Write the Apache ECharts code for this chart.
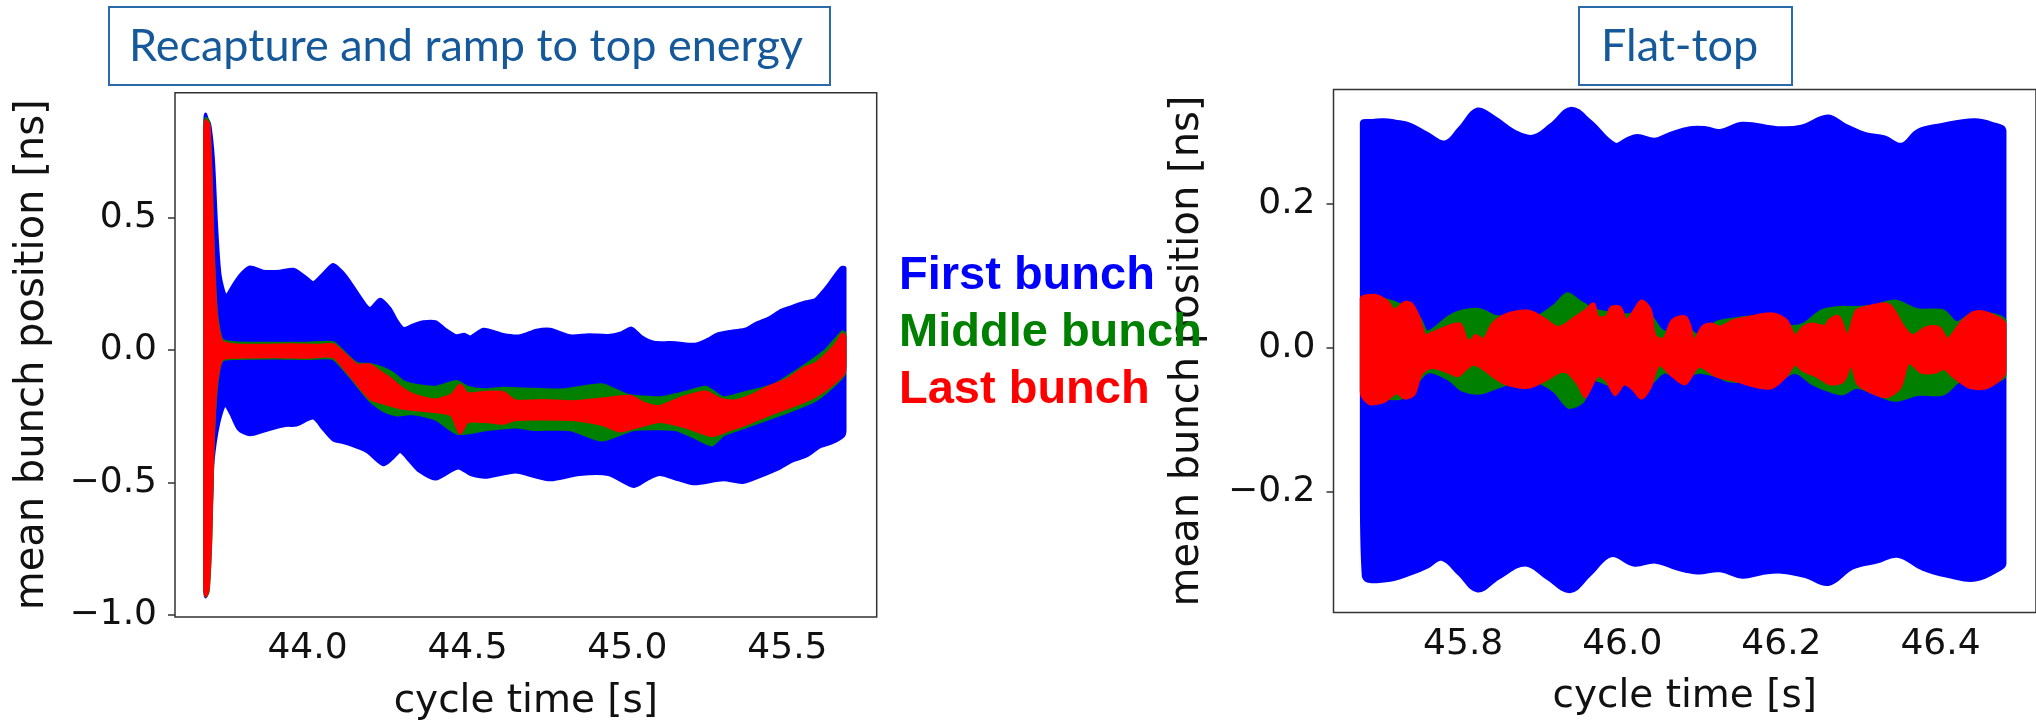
<!DOCTYPE html>
<html>
<head>
<meta charset="utf-8">
<title>Mean bunch position</title>
<script src="https://cdn.jsdelivr.net/npm/echarts@6.0.0/dist/echarts.min.js"></script>
<style>
  html, body { margin: 0; padding: 0; background: #ffffff; }
  #chart { width: 2036px; height: 726px; }
</style>
</head>
<body>
<div id="chart"></div>
<script>
// Envelopes of the bunch-position oscillation, [cycle time s, position ns].
// Ramp (recapture and acceleration)
const rampFirstUpper = [[43.679,0.86],[43.682,0.892],[43.686,0.875],[43.695,0.85],[43.706,0.722],[43.716,0.471],[43.727,0.283],[43.745,0.205],[43.765,0.24],[43.789,0.283],[43.82,0.314],[43.862,0.298],[43.914,0.298],[43.956,0.305],[43.99,0.28],[44.018,0.255],[44.05,0.29],[44.08,0.323],[44.105,0.3],[44.133,0.258],[44.165,0.2],[44.195,0.157],[44.227,0.192],[44.258,0.157],[44.28,0.11],[44.30,0.082],[44.33,0.095],[44.362,0.107],[44.40,0.107],[44.43,0.08],[44.466,0.054],[44.49,0.06],[44.51,0.05],[44.55,0.079],[44.612,0.059],[44.664,0.054],[44.716,0.075],[44.758,0.079],[44.82,0.054],[44.88,0.058],[44.94,0.055],[44.98,0.065],[45.013,0.083],[45.045,0.05],[45.083,0.03],[45.15,0.028],[45.21,0.022],[45.25,0.04],[45.28,0.06],[45.33,0.072],[45.371,0.08],[45.40,0.1],[45.443,0.122],[45.48,0.15],[45.515,0.165],[45.55,0.18],[45.587,0.191],[45.61,0.22],[45.631,0.252],[45.667,0.31],[45.68,0.31]];
const rampFirstLower = [[43.679,-0.90],[43.682,-0.932],[43.686,-0.91],[43.690,-0.85],[43.694,-0.768],[43.701,-0.55],[43.705,-0.42],[43.722,-0.28],[43.742,-0.207],[43.76,-0.24],[43.785,-0.30],[43.82,-0.32],[43.88,-0.30],[43.93,-0.285],[43.966,-0.283],[44.018,-0.257],[44.05,-0.30],[44.08,-0.339],[44.12,-0.352],[44.185,-0.383],[44.237,-0.433],[44.265,-0.41],[44.29,-0.383],[44.32,-0.42],[44.35,-0.458],[44.40,-0.487],[44.47,-0.445],[44.51,-0.47],[44.56,-0.48],[44.65,-0.46],[44.70,-0.475],[44.76,-0.49],[44.85,-0.47],[44.94,-0.47],[45.02,-0.515],[45.06,-0.49],[45.10,-0.47],[45.16,-0.49],[45.21,-0.505],[45.30,-0.49],[45.36,-0.5],[45.43,-0.47],[45.47,-0.45],[45.515,-0.419],[45.56,-0.4],[45.60,-0.367],[45.64,-0.35],[45.676,-0.323],[45.68,-0.3]];
const rampMiddleUpper = [[43.679,0.85],[43.683,0.875],[43.692,0.86],[43.700,0.62],[43.706,0.37],[43.716,0.14],[43.732,0.04],[43.768,0.028],[43.9,0.026],[44.0,0.026],[44.08,0.028],[44.12,-0.015],[44.154,-0.05],[44.2,-0.055],[44.237,-0.069],[44.27,-0.09],[44.30,-0.12],[44.35,-0.135],[44.40,-0.14],[44.466,-0.119],[44.50,-0.14],[44.55,-0.15],[44.612,-0.144],[44.71,-0.148],[44.80,-0.15],[44.92,-0.131],[45.0,-0.17],[45.1,-0.18],[45.18,-0.16],[45.245,-0.14],[45.30,-0.18],[45.37,-0.16],[45.46,-0.13],[45.55,-0.062],[45.62,0.0],[45.672,0.069],[45.68,0.06]];
const rampMiddleLower = [[43.679,-0.91],[43.683,-0.93],[43.690,-0.91],[43.698,-0.72],[43.705,-0.37],[43.716,-0.14],[43.732,-0.04],[43.77,-0.032],[43.9,-0.03],[44.0,-0.032],[44.08,-0.032],[44.133,-0.1],[44.195,-0.19],[44.24,-0.23],[44.28,-0.245],[44.33,-0.24],[44.40,-0.26],[44.47,-0.315],[44.56,-0.3],[44.65,-0.29],[44.71,-0.3],[44.82,-0.3],[44.92,-0.34],[45.02,-0.3],[45.15,-0.3],[45.21,-0.33],[45.264,-0.358],[45.30,-0.32],[45.37,-0.29],[45.44,-0.26],[45.515,-0.227],[45.586,-0.19],[45.63,-0.15],[45.676,-0.095],[45.68,-0.06]];
const rampLastUpper = [[43.679,0.84],[43.683,0.867],[43.692,0.85],[43.700,0.597],[43.706,0.346],[43.716,0.12],[43.732,0.033],[43.768,0.02],[43.85,0.018],[43.95,0.02],[44.03,0.018],[44.08,0.02],[44.12,-0.02],[44.154,-0.056],[44.195,-0.056],[44.23,-0.085],[44.258,-0.107],[44.29,-0.14],[44.32,-0.163],[44.36,-0.18],[44.40,-0.188],[44.45,-0.17],[44.477,-0.132],[44.50,-0.165],[44.55,-0.16],[44.612,-0.16],[44.65,-0.192],[44.74,-0.19],[44.83,-0.195],[44.92,-0.185],[45.01,-0.175],[45.05,-0.2],[45.1,-0.213],[45.17,-0.18],[45.245,-0.158],[45.29,-0.185],[45.335,-0.192],[45.39,-0.17],[45.44,-0.14],[45.50,-0.11],[45.55,-0.07],[45.59,-0.05],[45.62,-0.018],[45.65,0.02],[45.672,0.06],[45.68,0.05]];
const rampLastLower = [[43.679,-0.90],[43.683,-0.928],[43.690,-0.90],[43.698,-0.7],[43.705,-0.35],[43.716,-0.12],[43.732,-0.035],[43.77,-0.027],[43.9,-0.025],[44.0,-0.027],[44.08,-0.025],[44.133,-0.094],[44.195,-0.182],[44.237,-0.2],[44.30,-0.22],[44.40,-0.232],[44.45,-0.245],[44.477,-0.314],[44.50,-0.27],[44.56,-0.27],[44.612,-0.276],[44.65,-0.262],[44.74,-0.26],[44.83,-0.262],[44.92,-0.28],[44.977,-0.306],[45.03,-0.29],[45.1,-0.27],[45.18,-0.29],[45.264,-0.323],[45.32,-0.3],[45.37,-0.28],[45.43,-0.25],[45.48,-0.227],[45.54,-0.2],[45.586,-0.175],[45.63,-0.14],[45.676,-0.088],[45.68,-0.05]];

// Flat-top
const flatFirstUpper = [[45.672,0.312],[45.686,0.316],[45.700,0.317],[45.715,0.315],[45.733,0.311],[45.755,0.298],[45.777,0.286],[45.795,0.305],[45.818,0.332],[45.84,0.32],[45.865,0.301],[45.887,0.294],[45.91,0.31],[45.936,0.333],[45.96,0.315],[45.991,0.283],[46.005,0.29],[46.019,0.295],[46.041,0.290],[46.06,0.298],[46.085,0.306],[46.105,0.306],[46.123,0.302],[46.151,0.312],[46.195,0.306],[46.225,0.308],[46.258,0.322],[46.28,0.31],[46.305,0.298],[46.33,0.293],[46.351,0.283],[46.371,0.302],[46.40,0.31],[46.442,0.317],[46.465,0.312],[46.481,0.301]];
const flatFirstLower = [[45.672,-0.20],[45.6745,-0.318],[45.703,-0.324],[45.738,-0.313],[45.755,-0.305],[45.773,-0.294],[45.795,-0.315],[45.818,-0.338],[45.845,-0.32],[45.878,-0.302],[45.905,-0.32],[45.934,-0.339],[45.96,-0.315],[45.986,-0.289],[46.014,-0.302],[46.042,-0.298],[46.07,-0.308],[46.095,-0.313],[46.123,-0.310],[46.151,-0.319],[46.175,-0.314],[46.200,-0.312],[46.23,-0.318],[46.259,-0.329],[46.29,-0.306],[46.32,-0.298],[46.346,-0.290],[46.378,-0.308],[46.41,-0.318],[46.444,-0.323],[46.476,-0.307],[46.481,-0.30]];
const flatMiddleUpper = [[45.672,0.069],[45.711,0.064],[45.744,0.043],[45.755,0.022],[45.782,0.043],[45.799,0.051],[45.821,0.053],[45.843,0.043],[45.865,0.046],[45.892,0.043],[45.914,0.058],[45.931,0.075],[45.947,0.064],[45.964,0.053],[45.986,0.048],[46.008,0.046],[46.030,0.051],[46.052,0.022],[46.074,0.033],[46.096,0.017],[46.118,0.035],[46.140,0.040],[46.167,0.043],[46.189,0.043],[46.211,0.030],[46.228,0.033],[46.250,0.051],[46.272,0.056],[46.294,0.056],[46.316,0.058],[46.343,0.065],[46.371,0.053],[46.404,0.051],[46.420,0.035],[46.442,0.048],[46.481,0.038]];
const flatMiddleLower = [[45.672,-0.060],[45.700,-0.070],[45.727,-0.068],[45.755,-0.034],[45.782,-0.044],[45.799,-0.059],[45.821,-0.063],[45.843,-0.055],[45.865,-0.047],[45.892,-0.047],[45.914,-0.060],[45.933,-0.083],[45.950,-0.075],[45.964,-0.045],[45.986,-0.052],[46.008,-0.050],[46.030,-0.055],[46.052,-0.034],[46.074,-0.042],[46.096,-0.034],[46.118,-0.039],[46.134,-0.046],[46.156,-0.047],[46.189,-0.050],[46.217,-0.034],[46.239,-0.050],[46.261,-0.060],[46.277,-0.064],[46.294,-0.055],[46.316,-0.063],[46.343,-0.073],[46.371,-0.065],[46.404,-0.064],[46.426,-0.045],[46.453,-0.050],[46.481,-0.039]];
const flatLastUpper = [[45.672,0.069],[45.689,0.073],[45.705,0.064],[45.713,0.053],[45.727,0.063],[45.735,0.061],[45.744,0.043],[45.752,0.017],[45.760,0.020],[45.782,0.030],[45.796,0.033],[45.804,0.012],[45.810,0.010],[45.815,0.017],[45.826,0.012],[45.837,0.033],[45.854,0.046],[45.881,0.051],[45.898,0.043],[45.920,0.028],[45.942,0.043],[45.953,0.051],[45.964,0.061],[45.969,0.043],[45.980,0.043],[45.986,0.056],[45.997,0.056],[46.005,0.038],[46.013,0.048],[46.024,0.065],[46.035,0.053],[46.041,0.017],[46.052,0.012],[46.063,0.038],[46.079,0.043],[46.085,0.030],[46.090,0.010],[46.101,0.029],[46.112,0.033],[46.123,0.029],[46.140,0.038],[46.162,0.043],[46.189,0.047],[46.206,0.038],[46.217,0.017],[46.228,0.029],[46.239,0.033],[46.255,0.030],[46.261,0.039],[46.272,0.043],[46.283,0.017],[46.294,0.051],[46.305,0.056],[46.327,0.061],[46.338,0.057],[46.354,0.028],[46.365,0.017],[46.382,0.028],[46.398,0.028],[46.409,0.012],[46.426,0.035],[46.442,0.049],[46.459,0.048],[46.481,0.033]];
const flatLastLower = [[45.672,-0.063],[45.683,-0.078],[45.700,-0.075],[45.716,-0.063],[45.727,-0.070],[45.738,-0.065],[45.746,-0.039],[45.755,-0.029],[45.766,-0.028],[45.782,-0.034],[45.793,-0.039],[45.804,-0.029],[45.812,-0.023],[45.821,-0.026],[45.837,-0.039],[45.854,-0.050],[45.881,-0.055],[45.903,-0.045],[45.920,-0.034],[45.931,-0.034],[45.944,-0.050],[45.953,-0.068],[45.958,-0.060],[45.969,-0.039],[45.980,-0.045],[45.991,-0.065],[46.002,-0.050],[46.013,-0.057],[46.024,-0.070],[46.035,-0.055],[46.046,-0.024],[46.063,-0.039],[46.079,-0.050],[46.096,-0.026],[46.118,-0.039],[46.140,-0.045],[46.173,-0.055],[46.189,-0.055],[46.206,-0.039],[46.217,-0.023],[46.228,-0.032],[46.244,-0.039],[46.261,-0.050],[46.277,-0.047],[46.288,-0.024],[46.296,-0.050],[46.310,-0.060],[46.332,-0.068],[46.349,-0.055],[46.360,-0.021],[46.376,-0.034],[46.393,-0.034],[46.404,-0.029],[46.415,-0.039],[46.437,-0.055],[46.459,-0.055],[46.481,-0.034]];

// Tick values
const rampTimeTicks = [44.0, 44.5, 45.0, 45.5];
const rampPositionTicks = [-1.0, -0.5, 0.0, 0.5];
const flatTimeTicks = [45.8, 46.0, 46.2, 46.4];
const flatPositionTicks = [-0.2, 0.0, 0.2];

const bunchNames = ['First bunch', 'Middle bunch', 'Last bunch'];
const bunchColors = ['#0000ff', '#008000', '#ff0000'];
const panelTitles = ['Recapture and ramp to top energy', 'Flat-top'];

const chart = echarts.init(document.getElementById('chart'), null, { renderer: 'canvas' });

const FONT = 'DejaVu Sans';
const INK = '#111111';
const FRAME = '#333333';

// Filled band between an upper and a lower envelope, drawn as one polygon.
// Smoothing is held inside the band's own bounding box so the straight
// start/end edges stay put.
function band(name, color, upper, lower, axisIndex, z, smooth) {
  const ring = upper.concat(lower.slice().reverse());
  return {
    type: 'custom',
    name: name,
    xAxisIndex: axisIndex,
    yAxisIndex: axisIndex,
    data: ring,
    z: z,
    clip: true,
    silent: true,
    animation: false,
    renderItem: function (params, api) {
      if (params.dataIndex !== 0) return null;
      const pts = ring.map(function (p) { return api.coord(p); });
      let x0 = Infinity, y0 = Infinity, x1 = -Infinity, y1 = -Infinity;
      pts.forEach(function (p) {
        x0 = Math.min(x0, p[0]); x1 = Math.max(x1, p[0]);
        y0 = Math.min(y0, p[1]); y1 = Math.max(y1, p[1]);
      });
      return {
        type: 'polygon',
        shape: { points: pts, smooth: smooth, smoothConstraint: [[x0, y0], [x1, y1]] },
        style: { fill: color, stroke: color, lineWidth: 3, lineJoin: 'round' }
      };
    }
  };
}

function fmt(v) {
  const s = Math.abs(v).toFixed(1);
  return v < -1e-9 ? '\u2212' + s : s;
}

function timeAxis(gridIndex, min, max, ticks) {
  return {
    type: 'value', gridIndex: gridIndex, min: min, max: max,
    axisLine: { show: false },
    splitLine: { show: false },
    axisTick: { show: true, length: 7, customValues: ticks, lineStyle: { color: FRAME, width: 1.5 } },
    axisLabel: { customValues: ticks, formatter: fmt, fontFamily: FONT, fontSize: 36, color: INK, margin: 14 },
    name: 'cycle time [s]', nameLocation: 'middle', nameGap: 65,
    nameTextStyle: { fontFamily: FONT, fontSize: 39, color: INK }
  };
}

function positionAxis(gridIndex, min, max, ticks, gap) {
  return {
    type: 'value', gridIndex: gridIndex, min: min, max: max,
    axisLine: { show: false },
    splitLine: { show: false },
    axisTick: { show: true, length: 7, customValues: ticks, lineStyle: { color: FRAME, width: 1.5 } },
    axisLabel: { customValues: ticks, formatter: fmt, fontFamily: FONT, fontSize: 36, color: INK, margin: 18 },
    name: 'mean bunch position [ns]', nameLocation: 'middle', nameGap: gap,
    nameTextStyle: { fontFamily: FONT, fontSize: 40, color: INK }
  };
}

const titleStyle = { fontFamily: 'Lato', fontWeight: 'normal', fontSize: 45, color: '#15599b' };

const option = {
  backgroundColor: '#ffffff',
  animation: false,
  title: [
    { text: panelTitles[0], left: 109, top: 7, padding: [17, 27, 16, 20],
      borderColor: '#2a6aa8', borderWidth: 2, textStyle: titleStyle },
    { text: panelTitles[1], left: 1579, top: 7, padding: [17, 34, 16, 22],
      borderColor: '#2a6aa8', borderWidth: 2, textStyle: titleStyle }
  ],
  legend: {
    orient: 'vertical', left: 894, top: 253, padding: 0,
    itemWidth: 0, itemHeight: 0, itemGap: 10, icon: 'rect',
    selectedMode: false,
    textStyle: { fontFamily: 'Liberation Sans', fontWeight: 'bold', fontSize: 47 },
    data: bunchNames.map(function (n, i) { return { name: n, textStyle: { color: bunchColors[i] } }; })
  },
  grid: [
    { left: 175, top: 92.7, width: 701.7, height: 530, show: true, borderColor: FRAME, borderWidth: 1.5, backgroundColor: 'transparent' },
    { left: 1333.5, top: 89.5, width: 713.5, height: 523, show: true, borderColor: FRAME, borderWidth: 1.5, backgroundColor: 'transparent' }
  ],
  xAxis: [
    timeAxis(0, 43.586, 45.779, rampTimeTicks),
    timeAxis(1, 45.637, 46.52, flatTimeTicks)
  ],
  yAxis: [
    positionAxis(0, -1.008, 0.972, rampPositionTicks, 122),
    positionAxis(1, -0.368, 0.359, flatPositionTicks, 126)
  ],
  series: [
    band(bunchNames[0], bunchColors[0], rampFirstUpper, rampFirstLower, 0, 1, 0.25),
    band(bunchNames[1], bunchColors[1], rampMiddleUpper, rampMiddleLower, 0, 2, 0.2),
    band(bunchNames[2], bunchColors[2], rampLastUpper, rampLastLower, 0, 3, 0.2),
    band(bunchNames[0], bunchColors[0], flatFirstUpper, flatFirstLower, 1, 1, 0.4),
    band(bunchNames[1], bunchColors[1], flatMiddleUpper, flatMiddleLower, 1, 2, 0.3),
    band(bunchNames[2], bunchColors[2], flatLastUpper, flatLastLower, 1, 3, 0.3)
  ]
};

chart.setOption(option);
</script>
</body>
</html>
